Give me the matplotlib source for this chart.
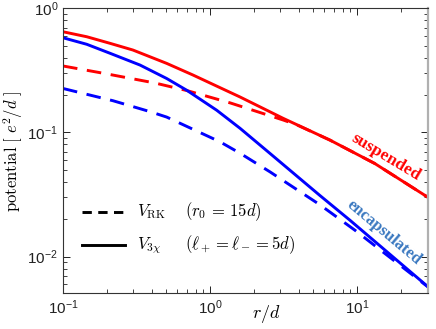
import numpy as np
import matplotlib
matplotlib.use("Agg")
import matplotlib.pyplot as plt

plt.rcParams['font.family'] = ['Liberation Sans', 'DejaVu Sans']

# values (r/d, potential in e^2/d)
r_sus_3x = [0.1, 0.145, 0.209, 0.299, 0.507, 0.766, 1.12, 1.6, 3.14, 6.55, 13.2, 30.4]
v_sus_3x = [0.647, 0.590, 0.522, 0.461, 0.360, 0.290, 0.235, 0.193, 0.130, 0.0867, 0.0562, 0.030]

r_sus_rk = [0.1, 0.196, 0.423, 0.7, 1.37, 3.14, 3.9, 6.55, 13.2, 30.4]
v_sus_rk = [0.343, 0.297, 0.250, 0.217, 0.173, 0.126, 0.115, 0.0867, 0.0562, 0.030]

r_enc_3x = [0.1, 0.145, 0.209, 0.334, 0.507, 0.693, 1.11, 1.6, 2.56, 5.6, 8.96, 30.5]
v_enc_3x = [0.579, 0.513, 0.434, 0.349, 0.272, 0.219, 0.151, 0.108, 0.0677, 0.031, 0.0196, 0.00569]

r_enc_rk = [0.1, 0.219, 0.391, 0.507, 1.17, 1.6, 2.56, 5.6, 9.68, 30.4]
v_enc_rk = [0.226, 0.180, 0.147, 0.133, 0.084, 0.068, 0.0481, 0.0261, 0.0163, 0.00569]

fig = plt.figure(figsize=(4.36, 3.29), dpi=100)
ax = fig.add_axes([0.1445, 0.1085, 0.8372, 0.8663])

lw = 2.1
dash = (5, 3.3)
ax.plot(r_sus_rk, v_sus_rk, color='red', lw=lw, dashes=dash)
ax.plot(r_enc_rk, v_enc_rk, color='blue', lw=lw, dashes=dash)
ax.plot(r_sus_3x, v_sus_3x, color='red', lw=lw)
ax.plot(r_enc_3x, v_enc_3x, color='blue', lw=lw)

ax.set_xscale('log')
ax.set_yscale('log')
ax.set_xlim(0.1, 30.4)
ax.set_ylim(0.00506, 1)

ax.tick_params(which='both', direction='in', top=True, right=True,
               labelsize=11, colors='#222222')
ax.tick_params(which='major', length=5, width=0.7)
ax.tick_params(which='minor', length=2.8, width=0.6)
for s in ['left', 'bottom', 'top']:
    ax.spines[s].set_color('#333333')
    ax.spines[s].set_linewidth(0.8)
ax.spines['right'].set_color('#b0b0b0')
ax.spines['right'].set_linewidth(1.6)

ax.set_ylabel(r"$\mathrm{potential}\ [\ e^2/d\ ]$", math_fontfamily='cm', fontsize=12, labelpad=2)
ax.set_xlabel(r"$r/d$", math_fontfamily='cm', fontsize=13)
ax.xaxis.set_label_coords(0.557, -0.035)

# curve labels
ax.text(15.7, 0.063, 'suspended', color='red', rotation=-31, fontsize=12.5,
        fontweight='bold', family='Liberation Serif', ha='center', va='center',
        rotation_mode='anchor')
ax.text(15.3, 0.0157, 'encapsulated', color='#3a78c0', rotation=-40, fontsize=12,
        fontweight='bold', family='Liberation Serif', ha='center', va='center',
        rotation_mode='anchor')

# hand-made legend
ax.plot([0.052, 0.170], [0.286, 0.286], transform=ax.transAxes, color='black',
        lw=2.1, dashes=(3.2, 2.2))
ax.plot([0.052, 0.170], [0.169, 0.169], transform=ax.transAxes, color='black', lw=2.1)
ax.text(0.203, 0.286, r"$V_{\rm RK}$", transform=ax.transAxes, math_fontfamily='cm',
        fontsize=12, va='center')
ax.text(0.334, 0.286, r"$(r_0\,=\,15d)$", transform=ax.transAxes, math_fontfamily='cm',
        fontsize=12, va='center')
ax.text(0.203, 0.169, r"$V_{3\chi}$", transform=ax.transAxes, math_fontfamily='cm',
        fontsize=12, va='center')
ax.text(0.334, 0.169, r"$(\ell_+ = \ell_- = 5d)$", transform=ax.transAxes,
        math_fontfamily='cm', fontsize=12, va='center')

fig.savefig("out.png", dpi=100)
